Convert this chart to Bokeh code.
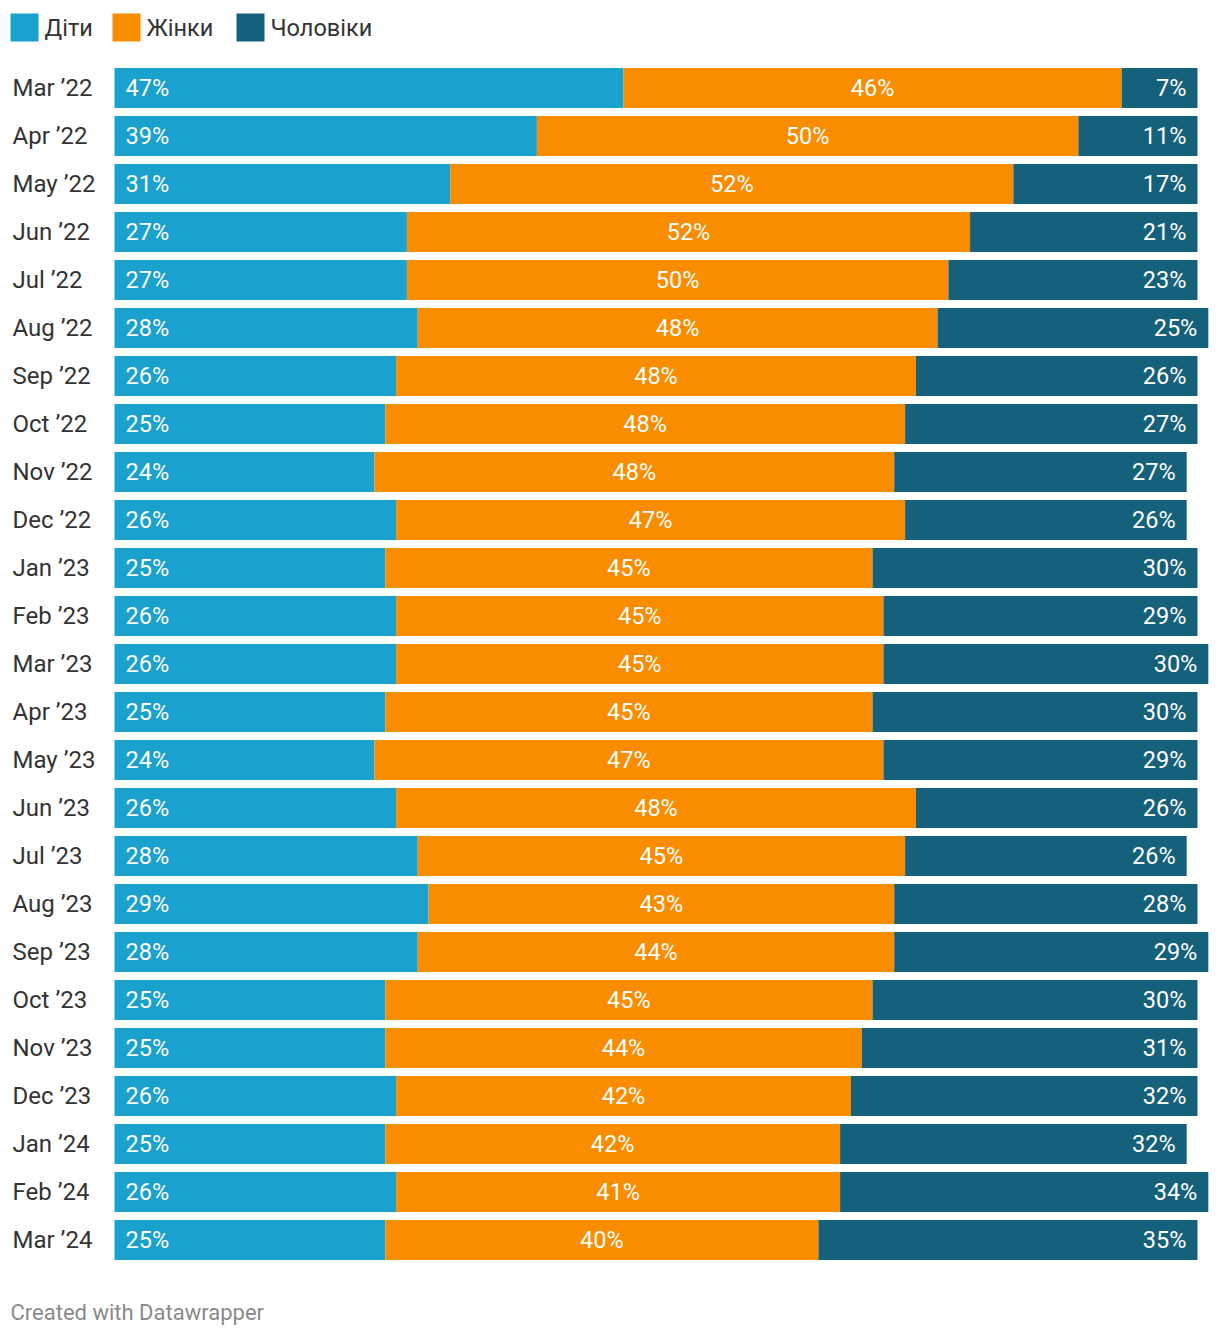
from bokeh.plotting import figure
from bokeh.models import Range1d, ColumnDataSource
from bokeh.core.properties import value
from bokeh.embed import file_html
from bokeh.resources import INLINE

months = ["Mar ’22", "Apr ’22", "May ’22", "Jun ’22", "Jul ’22", "Aug ’22", "Sep ’22",
          "Oct ’22", "Nov ’22", "Dec ’22", "Jan ’23", "Feb ’23", "Mar ’23", "Apr ’23",
          "May ’23", "Jun ’23", "Jul ’23", "Aug ’23", "Sep ’23", "Oct ’23", "Nov ’23",
          "Dec ’23", "Jan ’24", "Feb ’24", "Mar ’24"]
kids = [47, 39, 31, 27, 27, 28, 26, 25, 24, 26, 25, 26, 26, 25, 24, 26, 28, 29, 28, 25, 25, 26, 25, 26, 25]
women = [46, 50, 52, 52, 50, 48, 48, 48, 48, 47, 45, 45, 45, 45, 47, 48, 45, 43, 44, 45, 44, 42, 42, 41, 40]
men = [7, 11, 17, 21, 23, 25, 26, 27, 27, 26, 30, 29, 30, 30, 29, 26, 26, 28, 29, 30, 31, 32, 32, 34, 35]
series_names = ["Діти", "Жінки", "Чоловіки"]
colors = ["#1aa1cd", "#fa8c00", "#15607a"]

W, H = 1212, 1330
PX_PER = 10.83
X0 = 114
def xs(px):  # screen px -> data
    return (px - X0) / PX_PER
ROW0, PITCH = 87.5, 48.0
def ys(py):
    return (py - ROW0) / PITCH

p = figure(width=W, height=H, output_backend="svg", toolbar_location=None,
           x_range=Range1d(xs(0), xs(W)), y_range=Range1d(ys(H), ys(0)),
           min_border=0, x_axis_location=None, y_axis_location=None)
p.grid.visible = False
p.outline_line_color = None
p.background_fill_color = "white"

idx = list(range(len(months)))
k_end = kids
w_end = [a + b for a, b in zip(kids, women)]
m_end = [a + b + c for a, b, c in zip(kids, women, men)]
src = ColumnDataSource(dict(
    y=idx, month=months,
    k0=[0] * len(idx), k1=k_end, w1=w_end, m1=m_end,
    wmid=[(a + b) / 2 for a, b in zip(k_end, w_end)],
    zero=[xs(12)] * len(idx),
    klab=[f"{v}%" for v in kids], wlab=[f"{v}%" for v in women], mlab=[f"{v}%" for v in men],
))
bh = 40 / PITCH
p.hbar(y="y", left="k0", right="k1", height=bh, source=src, fill_color=colors[0], line_color=None)
p.hbar(y="y", left="k1", right="w1", height=bh, source=src, fill_color=colors[1], line_color=None)
p.hbar(y="y", left="w1", right="m1", height=bh, source=src, fill_color=colors[2], line_color=None)

font = value("Roboto")
common = dict(text_font=font, text_font_size="23.5px", text_baseline="middle", text_color="white", source=src)
p.text(x="k0", y="y", text="klab", x_offset=11, text_align="left", **common)
p.text(x="wmid", y="y", text="wlab", text_align="center", **common)
p.text(x="m1", y="y", text="mlab", x_offset=-11, text_align="right", **common)
p.text(x="zero", y="y", text="month", text_font=font, text_font_size="24px",
       text_baseline="middle", text_align="left", text_color="#333333", source=src)

# legend
leg_x = [10, 112, 236]
for i, name in enumerate(series_names):
    lx = leg_x[i]
    p.quad(left=[xs(lx)], right=[xs(lx + 28)], top=[ys(13)], bottom=[ys(41)],
           fill_color=colors[i], line_color=None)
    p.text(x=[xs(lx + 34)], y=[ys(27)], text=[name], text_font=font, text_font_size="23.5px",
           text_baseline="middle", text_align="left", text_color="#333333")

p.text(x=[xs(10)], y=[ys(1312)], text=["Created with Datawrapper"], text_font=font,
       text_font_size="22px", text_baseline="middle", text_align="left", text_color="#8a8a8a")

open("out.html", "w").write(file_html(p, INLINE))
